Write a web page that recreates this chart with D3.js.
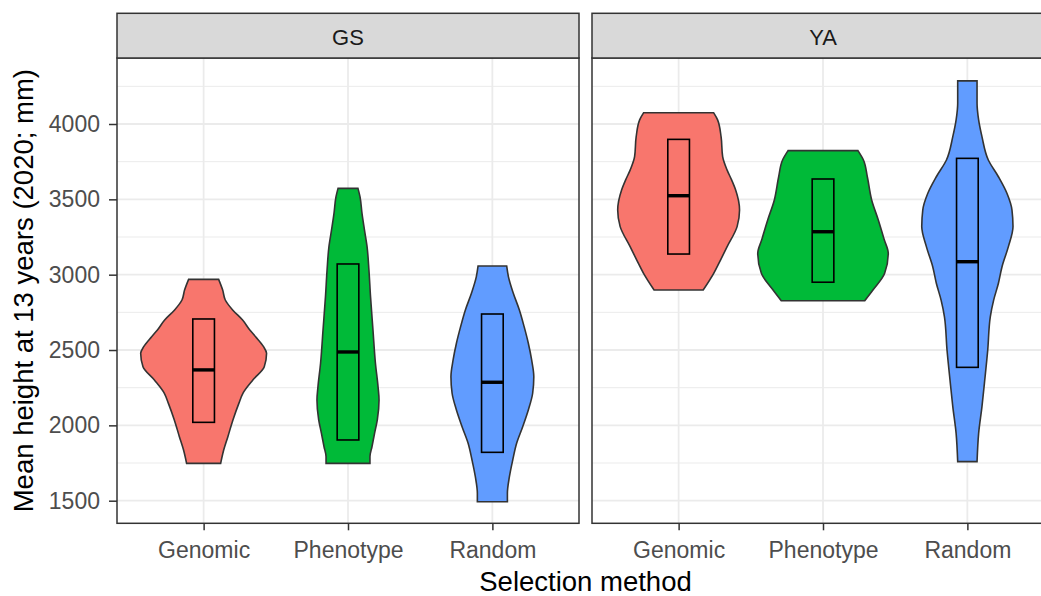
<!DOCTYPE html>
<html>
<head>
<meta charset="utf-8">
<script src="https://cdn.jsdelivr.net/npm/d3@7"></script>
<style>
    body { margin: 0; background: #fff; }
    text { font-family: "Liberation Sans", Arial, sans-serif; }
</style>
</head>
<body>
<div class="violin-chart-container"></div>
<script>
// Data.
const panels = ['GS', 'YA'];
const methods = ['Genomic', 'Phenotype', 'Random'];
const fills = ['#F8766D', '#00BA38', '#619CFF'];
const yTicks = [1500, 2000, 2500, 3000, 3500, 4000];
const yMinorTicks = [1750, 2250, 2750, 3250, 3750, 4250];

// Violin outlines: [height (mm), half width in category units]
const gsGenomic = [[1748, 0.118], [1836, 0.139], [1925, 0.168], [2036, 0.203], [2146, 0.244], [2213, 0.272],
    [2301, 0.341], [2389, 0.42], [2478, 0.436], [2522, 0.415], [2588, 0.36], [2633, 0.32], [2699, 0.27],
    [2766, 0.201], [2832, 0.15], [2898, 0.132], [2969, 0.104]];
const gsPhenotype = [[1748, 0.152], [1792, 0.152], [1858, 0.166], [1947, 0.184], [2036, 0.203], [2168, 0.215],
    [2257, 0.208], [2412, 0.19], [2633, 0.173], [2854, 0.156], [3031, 0.145], [3186, 0.132], [3297, 0.114],
    [3407, 0.097], [3518, 0.083], [3573, 0.069]];
const gsRandom = [[1493, 0.104], [1549, 0.104], [1659, 0.118], [1770, 0.141], [1881, 0.168], [1991, 0.21],
    [2102, 0.249], [2213, 0.279], [2323, 0.287], [2434, 0.272], [2545, 0.249], [2655, 0.22], [2766, 0.187],
    [2877, 0.145], [2987, 0.111], [3058, 0.099]];
const yaGenomic = [[2898, 0.17], [3009, 0.243], [3097, 0.29], [3186, 0.336], [3319, 0.405], [3429, 0.422],
    [3562, 0.395], [3629, 0.367], [3694, 0.336], [3783, 0.305], [3916, 0.294], [4027, 0.27], [4075, 0.242]];
const yaPhenotype = [[2827, 0.289], [2898, 0.346], [3009, 0.427], [3142, 0.452], [3230, 0.425], [3363, 0.383],
    [3496, 0.337], [3650, 0.307], [3761, 0.28], [3823, 0.242]];
const yaRandom = [[1759, 0.067], [1947, 0.078], [2124, 0.101], [2279, 0.118], [2500, 0.141], [2721, 0.159],
    [2831, 0.182], [2943, 0.215], [3053, 0.24], [3186, 0.284], [3319, 0.316], [3429, 0.309], [3540, 0.274],
    [3650, 0.215], [3761, 0.145], [3916, 0.101], [4027, 0.078], [4138, 0.067], [4286, 0.067]];

// Boxes: [q1, median, q3]
const gsBoxes = [[2020, 2368, 2706], [1903, 2487, 3071], [1821, 2286, 2739]];
const yaBoxes = [[3137, 3524, 3898], [2950, 3285, 3635], [2385, 3086, 3772]];

const violinSets = [[gsGenomic, gsPhenotype, gsRandom], [yaGenomic, yaPhenotype, yaRandom]];
const boxSets = [gsBoxes, yaBoxes];

const area = {
    width: 1041,
    height: 596,
    top: 58,
    bottom: 523.3,
    stripTop: 13.3,
    panelLeft: [117, 592],
    panelWidth: 462
};

const svg = d3
    .select('.violin-chart-container')
    .append('svg')
    .attr('width', area.width)
    .attr('height', area.height);

const yScale = d3
    .scaleLinear()
    .domain([1350, 4438])
    .range([area.bottom, area.top]);

panels.forEach((panel, p) => drawPanel(panel, p));
drawTitles();

function drawPanel(panel, p) {
    const left = area.panelLeft[p];
    const right = left + area.panelWidth;
    const xScale = d3
        .scalePoint()
        .domain(methods)
        .range([left, right])
        .padding(0.6);
    const step = xScale.step();
    const g = svg.append('g').attr('class', 'panel');

    // Grid
    g.selectAll('.minor')
        .data(yMinorTicks)
        .join('line')
        .attr('x1', left).attr('x2', right)
        .attr('y1', d => yScale(d)).attr('y2', d => yScale(d))
        .attr('stroke', '#EBEBEB')
        .attr('stroke-width', 1);
    g.selectAll('.major-y')
        .data(yTicks)
        .join('line')
        .attr('x1', left).attr('x2', right)
        .attr('y1', d => yScale(d)).attr('y2', d => yScale(d))
        .attr('stroke', '#EBEBEB')
        .attr('stroke-width', 1.8);
    g.selectAll('.major-x')
        .data(methods)
        .join('line')
        .attr('x1', d => xScale(d)).attr('x2', d => xScale(d))
        .attr('y1', area.top).attr('y2', area.bottom)
        .attr('stroke', '#EBEBEB')
        .attr('stroke-width', 1.8);

    // Violins
    methods.forEach((method, i) => {
        const cx = xScale(method);
        const points = d3.sort(violinSets[p][i], d => -d[0]);
        const violin = d3.area()
            .curve(d3.curveMonotoneY)
            .y(d => yScale(d[0]))
            .x0(d => cx - d[1] * step)
            .x1(d => cx + d[1] * step);
        g.append('path')
            .attr('d', violin(points))
            .attr('fill', fills[i])
            .attr('stroke', '#333333')
            .attr('stroke-width', 1.6);
    });

    // Boxes
    const boxWidth = 0.15 * step;
    const boxes = g.selectAll('.box')
        .data(boxSets[p])
        .join('g')
        .attr('class', 'box');
    boxes.append('rect')
        .attr('x', (d, i) => xScale(methods[i]) - boxWidth / 2)
        .attr('width', boxWidth)
        .attr('y', d => yScale(d[2]))
        .attr('height', d => yScale(d[0]) - yScale(d[2]))
        .attr('fill', 'none')
        .attr('stroke', '#000')
        .attr('stroke-width', 1.6);
    boxes.append('line')
        .attr('x1', (d, i) => xScale(methods[i]) - boxWidth / 2)
        .attr('x2', (d, i) => xScale(methods[i]) + boxWidth / 2)
        .attr('y1', d => yScale(d[1]))
        .attr('y2', d => yScale(d[1]))
        .attr('stroke', '#000')
        .attr('stroke-width', 3.4);

    // Border and strip
    g.append('rect')
        .attr('x', left).attr('y', area.top)
        .attr('width', area.panelWidth).attr('height', area.bottom - area.top)
        .attr('fill', 'none')
        .attr('stroke', '#333333')
        .attr('stroke-width', 1.5);
    g.append('rect')
        .attr('x', left).attr('y', area.stripTop)
        .attr('width', area.panelWidth).attr('height', area.top - area.stripTop)
        .attr('fill', '#D9D9D9')
        .attr('stroke', '#333333')
        .attr('stroke-width', 1.5);
    g.append('text')
        .attr('x', (left + right) / 2)
        .attr('y', 45)
        .attr('text-anchor', 'middle')
        .attr('fill', '#1A1A1A')
        .style('font-size', '22px')
        .text(panel);

    // Axes
    const axisX = g.append('g')
        .attr('transform', `translate(0, ${area.bottom})`)
        .call(d3.axisBottom(xScale).tickSize(7).tickPadding(11));
    styleAxis(axisX);

    if (p === 0) {
        const axisY = g.append('g')
            .attr('transform', `translate(${left}, 0)`)
            .call(d3.axisLeft(yScale).tickValues(yTicks).tickFormat(d3.format('d')).tickSize(8).tickPadding(9));
        styleAxis(axisY);
    }
}

function styleAxis(axis) {
    axis.select('.domain').remove();
    axis.selectAll('.tick line').attr('stroke', '#333333').attr('stroke-width', 1.5);
    axis.selectAll('.tick text')
        .attr('fill', '#4D4D4D')
        .style('font-size', '23px')
        .style('font-family', '"Liberation Sans", Arial, sans-serif');
}

function drawTitles() {
    const centre = (area.panelLeft[0] + area.panelLeft[1] + area.panelWidth) / 2;
    svg.append('text')
        .attr('x', centre)
        .attr('y', 591)
        .attr('text-anchor', 'middle')
        .style('font-size', '27.5px')
        .text('Selection method');

    svg.append('text')
        .attr('transform', `translate(33, ${(area.top + area.bottom) / 2}) rotate(-90)`)
        .attr('text-anchor', 'middle')
        .style('font-size', '27.5px')
        .text('Mean height at 13 years (2020; mm)');
}
</script>
</body>
</html>
